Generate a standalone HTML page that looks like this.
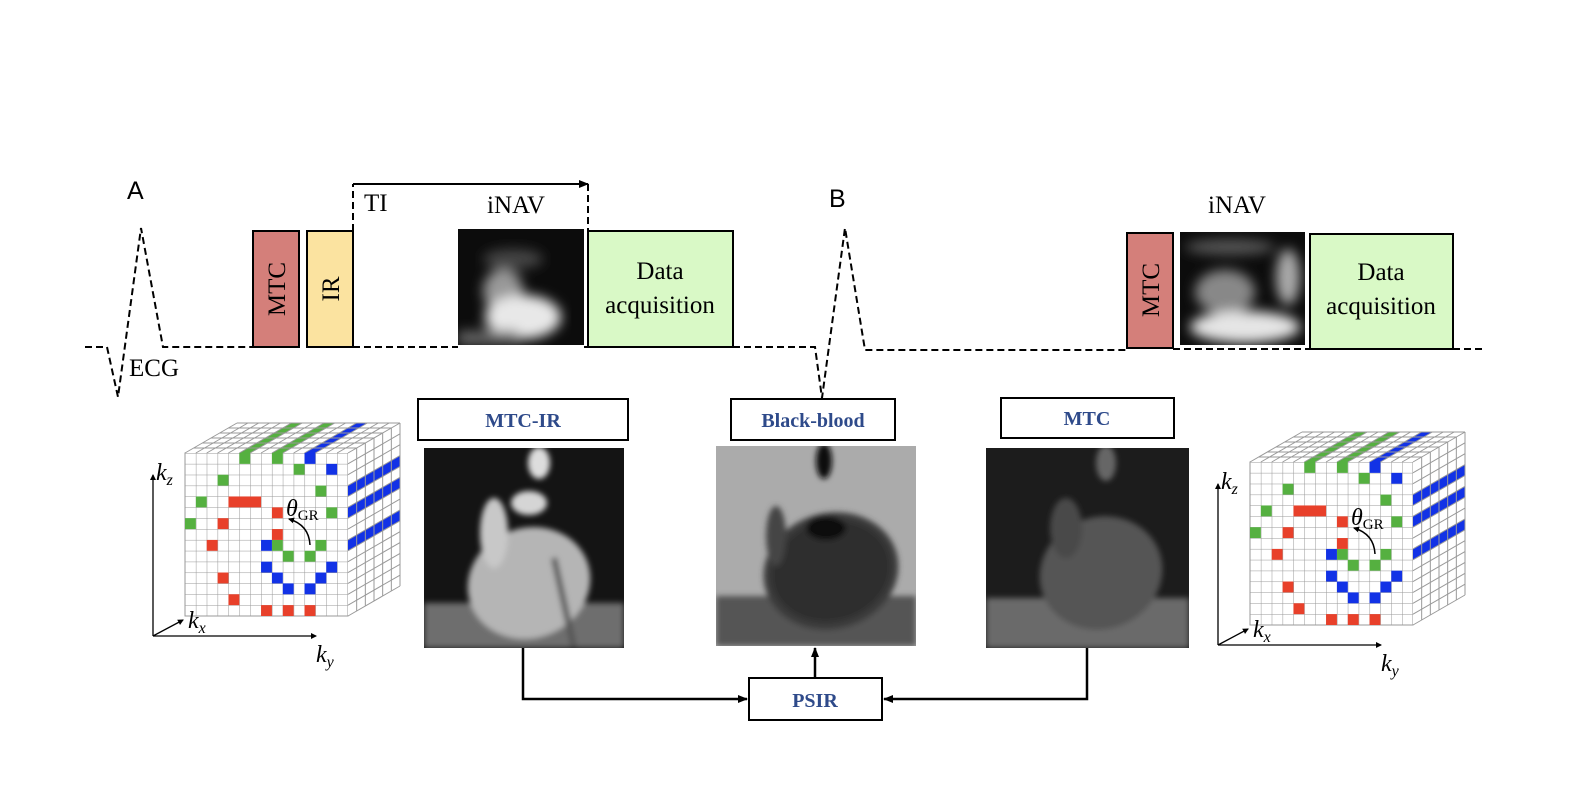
<!DOCTYPE html>
<html><head><meta charset="utf-8"><style>
html,body{margin:0;padding:0;background:#fff;}
svg{display:block}
.serif{font-family:"Liberation Serif",serif;}
.lbl{font-family:"Liberation Serif",serif;font-weight:bold;fill:#2e4a8a;font-size:20px;text-anchor:middle}
</style></head><body>
<svg width="1574" height="796" viewBox="0 0 1574 796" xmlns="http://www.w3.org/2000/svg">
<defs>
<pattern id="grid" x="0" y="0" width="10.867" height="10.867" patternUnits="userSpaceOnUse">
<rect width="10.867" height="10.867" fill="#fff"/>
<path d="M0 0H10.867M0 0V10.867" stroke="#999" stroke-width="1" fill="none"/>
</pattern>
<filter id="bl"><feGaussianBlur stdDeviation="6"/></filter>
<filter id="bl2"><feGaussianBlur stdDeviation="3"/></filter>
<marker id="ah" markerWidth="10" markerHeight="10" refX="9" refY="5" orient="auto" markerUnits="userSpaceOnUse"><path d="M0 1L10 5L0 9z" fill="#000"/></marker>
<marker id="ah2" markerWidth="6" markerHeight="6" refX="5" refY="3" orient="auto" markerUnits="userSpaceOnUse"><path d="M0 0L6 3L0 6z" fill="#000"/></marker>
<g id="cube">
<rect x="0" y="0" width="163" height="163" fill="url(#grid)"/>
<rect x="0" y="0" width="163" height="163" fill="none" stroke="#999"/>
<path d="M0 0L52 -30H215V133L163 163V0Z" fill="#fff"/>
<g fill="#55b040">
<path d="M54.33 0l52 -30h10.87l-52 30z"/><path d="M86.93 0l52 -30h10.87l-52 30z"/>
</g>
<path d="M119.53 0l52 -30h10.87l-52 30z" fill="#1232e6"/>
<g fill="#1232e6">
<path d="M163 32.6l52 -30v10.87l-52 30z"/><path d="M163 54.33l52 -30v10.87l-52 30z"/><path d="M163 86.93l52 -30v10.87l-52 30z"/>
</g>
<g stroke="#999" stroke-width="1" fill="none">
<path d="M0 0l52 -30M10.87 0l52 -30M21.73 0l52 -30M32.6 0l52 -30M43.47 0l52 -30M54.33 0l52 -30M65.2 0l52 -30M76.07 0l52 -30M86.93 0l52 -30M97.8 0l52 -30M108.67 0l52 -30M119.53 0l52 -30M130.4 0l52 -30M141.27 0l52 -30M152.13 0l52 -30M163 0l52 -30"/>
<path d="M8.67 -5h163M17.33 -10h163M26 -15h163M34.67 -20h163M43.33 -25h163M52 -30h163"/>
<path d="M163 10.87l52 -30M163 21.73l52 -30M163 32.6l52 -30M163 43.47l52 -30M163 54.33l52 -30M163 65.2l52 -30M163 76.07l52 -30M163 86.93l52 -30M163 97.8l52 -30M163 108.67l52 -30M163 119.53l52 -30M163 130.4l52 -30M163 141.27l52 -30M163 152.13l52 -30M163 163l52 -30"/>
<path d="M171.67 -5v163M180.33 -10v163M189 -15v163M197.67 -20v163M206.33 -25v163M215 -30v163"/>
</g>
<g fill="#55b040">
<rect x="54.33" y="0" width="10.87" height="10.87"/><rect x="86.93" y="0" width="10.87" height="10.87"/>
<rect x="108.67" y="10.87" width="10.87" height="10.87"/><rect x="32.6" y="21.73" width="10.87" height="10.87"/>
<rect x="130.4" y="32.6" width="10.87" height="10.87"/><rect x="10.87" y="43.47" width="10.87" height="10.87"/>
<rect x="141.27" y="54.33" width="10.87" height="10.87"/><rect x="0" y="65.2" width="10.87" height="10.87"/>
<rect x="86.93" y="86.93" width="10.87" height="10.87"/><rect x="130.4" y="86.93" width="10.87" height="10.87"/>
<rect x="97.8" y="97.8" width="10.87" height="10.87"/><rect x="119.53" y="97.8" width="10.87" height="10.87"/>
</g>
<g fill="#1232e6">
<rect x="119.53" y="0" width="10.87" height="10.87"/><rect x="141.27" y="10.87" width="10.87" height="10.87"/>
<rect x="76.07" y="86.93" width="10.87" height="10.87"/><rect x="76.07" y="108.67" width="10.87" height="10.87"/>
<rect x="141.27" y="108.67" width="10.87" height="10.87"/><rect x="86.93" y="119.53" width="10.87" height="10.87"/>
<rect x="130.4" y="119.53" width="10.87" height="10.87"/><rect x="97.8" y="130.4" width="10.87" height="10.87"/>
<rect x="119.53" y="130.4" width="10.87" height="10.87"/>
</g>
<g fill="#e8402a">
<rect x="43.47" y="43.47" width="32.6" height="10.87"/>
<rect x="86.93" y="54.33" width="10.87" height="10.87"/><rect x="32.6" y="65.2" width="10.87" height="10.87"/>
<rect x="86.93" y="76.07" width="10.87" height="10.87"/><rect x="21.73" y="86.93" width="10.87" height="10.87"/>
<rect x="32.6" y="119.53" width="10.87" height="10.87"/><rect x="43.47" y="141.27" width="10.87" height="10.87"/>
<rect x="76.07" y="152.13" width="10.87" height="10.87"/><rect x="97.8" y="152.13" width="10.87" height="10.87"/>
<rect x="119.53" y="152.13" width="10.87" height="10.87"/>
</g>
<path d="M125 92Q124 72 104 66" stroke="#000" stroke-width="1.5" fill="none" marker-end="url(#ah2)"/>
<g stroke="#000" stroke-width="1.3" fill="none">
<path d="M-32 183V22" marker-end="url(#ah2)"/>
<path d="M-32 183H131" marker-end="url(#ah2)"/>
<path d="M-32 183L-2 167" marker-end="url(#ah2)"/>
</g>
</g>
</defs>

<use href="#cube" x="185" y="453"/>
<use href="#cube" x="1250" y="462"/>
<g class="serif" font-style="italic" font-size="24">
<text x="156" y="480">k<tspan font-size="16" dy="5">z</tspan></text>
<text x="188" y="628">k<tspan font-size="16" dy="5">x</tspan></text>
<text x="316" y="662">k<tspan font-size="16" dy="5">y</tspan></text>
<text x="1221" y="489">k<tspan font-size="16" dy="5">z</tspan></text>
<text x="1253" y="637">k<tspan font-size="16" dy="5">x</tspan></text>
<text x="1381" y="671">k<tspan font-size="16" dy="5">y</tspan></text>
<text x="286" y="516">θ<tspan font-style="normal" font-size="15" dy="4">GR</tspan></text>
<text x="1351" y="525">θ<tspan font-style="normal" font-size="15" dy="4">GR</tspan></text>
</g>

<g stroke="#000" stroke-width="2" fill="none" stroke-dasharray="7,4">
<path d="M85 347H107L118 397L141 228L163 347H253"/>
<path d="M353 347H458"/>
<path d="M584 347H588"/>
<path d="M733 347H815L822 398L845 228L865 350H1127"/>
<path d="M822 398V402"/>
<path d="M1173 349H1310"/>
<path d="M1453 349H1485"/>
<path d="M353 231V184"/>
<path d="M588 184V231"/>
</g>
<path d="M353 184H588" stroke="#000" stroke-width="2" fill="none" marker-end="url(#ah)"/>
<rect x="253" y="231" width="46" height="116" fill="#d47f7a" stroke="#000" stroke-width="2"/>
<rect x="307" y="231" width="46" height="116" fill="#fbe3a0" stroke="#000" stroke-width="2"/>
<rect x="588" y="231" width="145" height="116" fill="#d9f9c6" stroke="#000" stroke-width="2"/>
<rect x="1127" y="233" width="46" height="115" fill="#d47f7a" stroke="#000" stroke-width="2"/>
<rect x="1310" y="234" width="143" height="115" fill="#d9f9c6" stroke="#000" stroke-width="2"/>
<g class="serif" font-size="25" fill="#000">
<text transform="translate(285,289) rotate(-90)" text-anchor="middle">MTC</text>
<text transform="translate(339,289) rotate(-90)" text-anchor="middle">IR</text>
<text transform="translate(1159,290) rotate(-90)" text-anchor="middle">MTC</text>
<text x="660" y="279" text-anchor="middle">Data</text>
<text x="660" y="313" text-anchor="middle">acquisition</text>
<text x="1381" y="280" text-anchor="middle">Data</text>
<text x="1381" y="314" text-anchor="middle">acquisition</text>
<text x="364" y="211">TI</text>
<text x="487" y="213">iNAV</text>
<text x="1208" y="213">iNAV</text>
<text x="129" y="376">ECG</text>
</g>
<g font-family="Liberation Sans, sans-serif" font-size="25" fill="#000">
<text x="127" y="199">A</text>
<text x="829" y="207">B</text>
</g>

<svg x="458" y="229" width="126" height="116" viewBox="0 0 126 116">
<rect width="126" height="116" fill="#0c0c0c"/>
<g filter="url(#bl)">
<ellipse cx="55" cy="30" rx="30" ry="10" fill="#444"/>
<ellipse cx="45" cy="62" rx="20" ry="22" fill="#999"/>
<ellipse cx="65" cy="88" rx="38" ry="22" fill="#e8e8e8"/>
<rect x="0" y="102" width="60" height="14" fill="#666"/>
</g>
</svg>
<svg x="1180" y="232" width="125" height="113" viewBox="0 0 125 113">
<rect width="125" height="113" fill="#0c0c0c"/>
<g filter="url(#bl)">
<ellipse cx="50" cy="15" rx="45" ry="8" fill="#555"/>
<ellipse cx="45" cy="60" rx="30" ry="22" fill="#888"/>
<ellipse cx="65" cy="95" rx="55" ry="16" fill="#e5e5e5"/>
<ellipse cx="108" cy="45" rx="12" ry="28" fill="#aaa"/>
</g>
</svg>

<g fill="#fff" stroke="#000" stroke-width="2">
<rect x="418" y="399" width="210" height="41"/>
<rect x="731" y="399" width="164" height="41"/>
<rect x="1001" y="398" width="173" height="40"/>
<rect x="749" y="678" width="133" height="42"/>
</g>
<text class="lbl" x="523" y="427">MTC-IR</text>
<text class="lbl" x="813" y="427">Black-blood</text>
<text class="lbl" x="1087" y="425">MTC</text>
<text class="lbl" x="815" y="707">PSIR</text>

<svg x="424" y="448" width="200" height="200" viewBox="0 0 200 200">
<rect width="200" height="200" fill="#141414"/>
<g filter="url(#bl2)">
<rect x="0" y="155" width="200" height="45" fill="#6e6e6e"/>
<ellipse cx="105" cy="135" rx="62" ry="55" fill="#b5b5b5" transform="rotate(-20 105 135)"/>
<ellipse cx="115" cy="15" rx="11" ry="16" fill="#ddd"/>
<ellipse cx="105" cy="55" rx="18" ry="12" fill="#d5d5d5"/>
<ellipse cx="70" cy="85" rx="14" ry="35" fill="#c8c8c8"/>
<path d="M130 110L150 200" stroke="#555" stroke-width="6"/>
</g>
</svg>
<svg x="716" y="446" width="200" height="200" viewBox="0 0 200 200">
<rect width="200" height="200" fill="#ababab"/>
<g filter="url(#bl2)">
<rect x="0" y="150" width="200" height="50" fill="#555"/>
<ellipse cx="115" cy="125" rx="68" ry="58" fill="#3a3a3a" transform="rotate(-15 115 125)"/>
<ellipse cx="115" cy="125" rx="60" ry="50" fill="#2e2e2e" transform="rotate(-15 115 125)"/>
<ellipse cx="108" cy="15" rx="8" ry="18" fill="#111"/>
<ellipse cx="110" cy="82" rx="20" ry="12" fill="#111"/>
<ellipse cx="60" cy="90" rx="10" ry="30" fill="#444"/>
</g>
</svg>
<svg x="986" y="448" width="203" height="200" viewBox="0 0 203 200">
<rect width="203" height="200" fill="#1c1c1c"/>
<g filter="url(#bl2)">
<rect x="0" y="150" width="203" height="50" fill="#6a6a6a"/>
<ellipse cx="115" cy="125" rx="62" ry="56" fill="#545454" transform="rotate(-20 115 125)"/>
<ellipse cx="120" cy="15" rx="10" ry="18" fill="#666"/>
<ellipse cx="80" cy="80" rx="16" ry="30" fill="#4a4a4a"/>
</g>
</svg>

<g stroke="#000" stroke-width="2.5" fill="none">
<path d="M523 648V699H747" marker-end="url(#ah)"/>
<path d="M1087 648V699H884" marker-end="url(#ah)"/>
<path d="M815 678V648" marker-end="url(#ah)"/>
</g>
</svg>
</body></html>
